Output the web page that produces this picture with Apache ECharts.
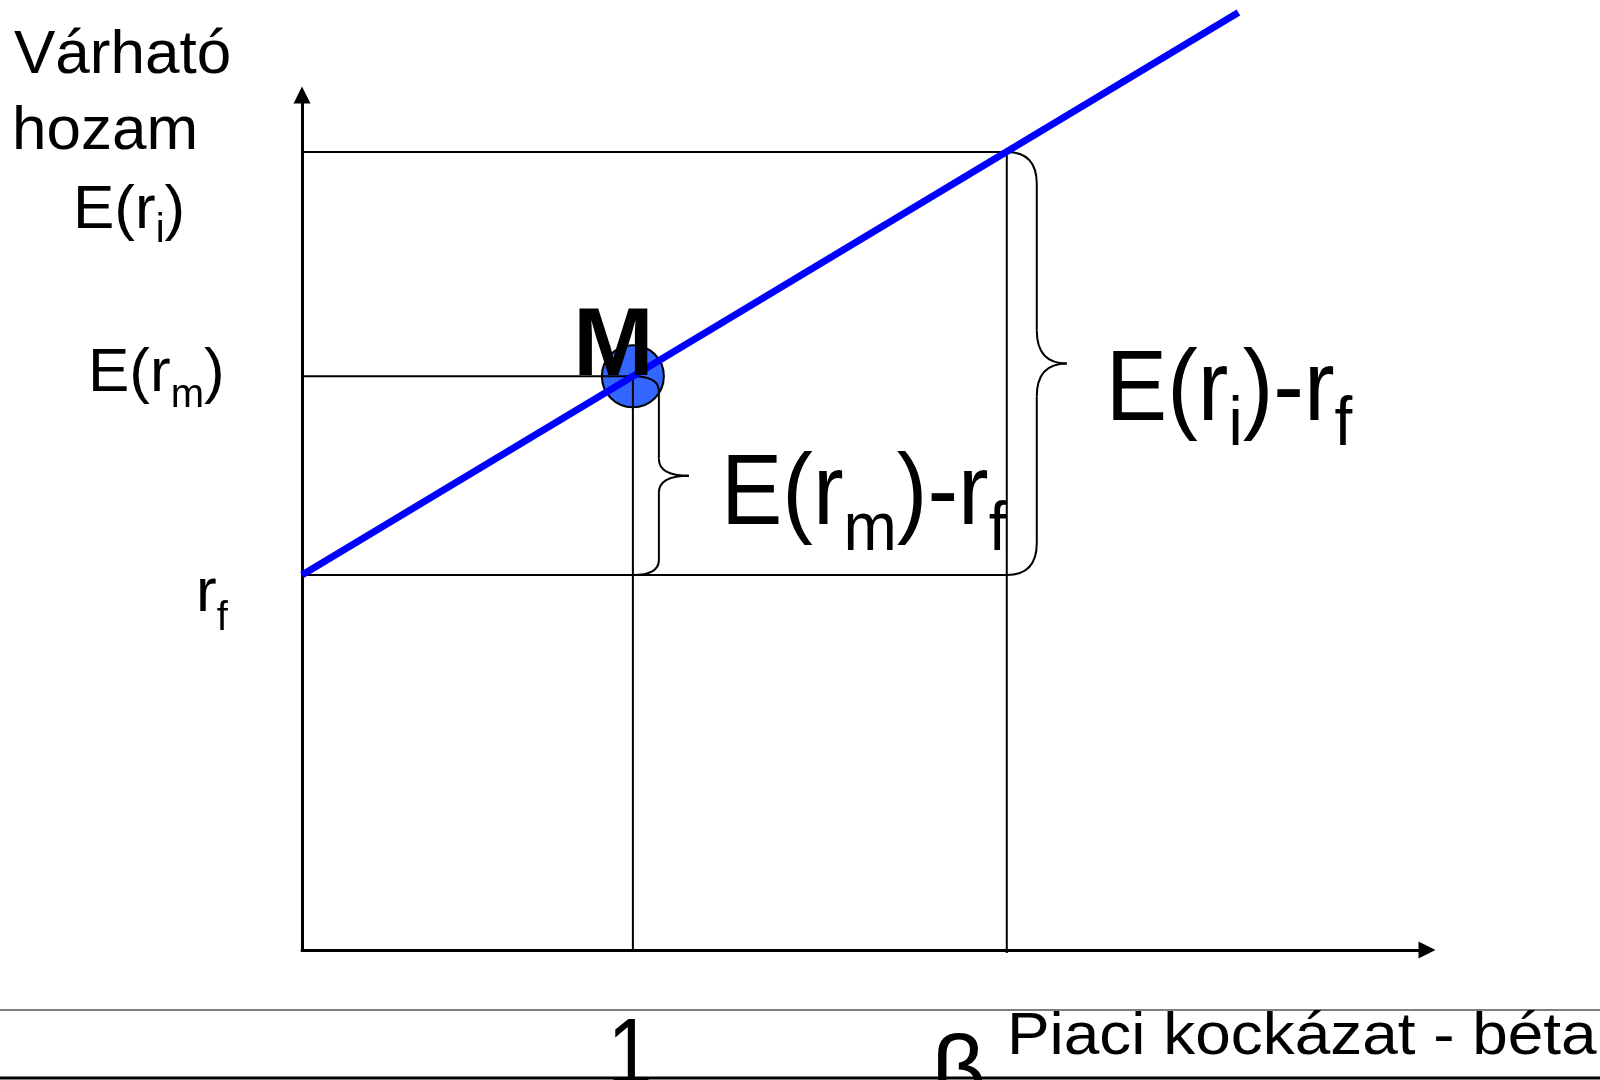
<!DOCTYPE html>
<html>
<head>
<meta charset="utf-8">
<title>Értékpapír-piaci egyenes</title>
<script src="https://cdn.jsdelivr.net/npm/echarts@6/dist/echarts.min.js"></script>
<style>
html, body { margin: 0; padding: 0; background: #fff; }
#main { width: 1600px; height: 1080px; }
</style>
</head>
<body>
<div id="main"></div>
<script>
// values: beta on x, expected return on y
const rf = 5;            // r_f
const expMarket = 7.65;  // E(r_m)
const betaMarket = 1;
const betaI = 2.13;
const expI = 10.64;      // E(r_i)

// security market line (runs past the top of the plot)
const smlBeta = [0, 2.83];
const smlReturn = [5, 12.5];

// thin guide lines, start and end points
const guideFrom = [[-0.015, 10.64], [-0.015, 5], [0, 7.65], [1, 7.65], [2.13, 10.64]];
const guideTo = [[2.13, 10.64], [2.13, 5], [1, 7.65], [1, 0], [2.13, -0.04]];

// curly braces: at beta, from top return down to bottom return
const braceBeta = [1, 2.13];
const braceTop = [7.65, 10.64];
const braceBottom = [5, 5];

// x tick labels under the axis
const xTickValues = [1, 2.13];
const xTickLabels = ['1', 'β'];

const FONT = "'Liberation Sans', Arial, sans-serif";
const braceShape = [
  { d: 26, tip: 30, r: 15, mid: 17 },
  { d: 30, tip: 30, r: 32, mid: 33 }
];

const chart = echarts.init(document.getElementById('main'));

const axisCommon = {
  type: 'value',
  axisLine: {
    show: true,
    symbol: ['none', 'triangle'],
    symbolSize: [17, 17],
    lineStyle: { color: '#000', width: 3 }
  },
  axisTick: { show: false },
  axisLabel: { show: false },
  splitLine: { show: false }
};

const guideSeries = guideFrom.map(function (p, i) {
  return {
    type: 'line',
    data: [p, guideTo[i]],
    symbol: 'none',
    clip: false,
    silent: true,
    z: 2,
    lineStyle: { color: '#000', width: 2 }
  };
});

const option = {
  animation: false,
  backgroundColor: '#fff',
  grid: { left: 302, right: 173, top: 95, bottom: 130, containLabel: false },
  xAxis: Object.assign({}, axisCommon, { min: 0, max: 3.4 }),
  yAxis: Object.assign({}, axisCommon, { min: 0, max: 11.4 }),
  series: [
    {
      type: 'scatter',
      data: [[betaMarket, expMarket]],
      symbolSize: 62,
      z: 1,
      silent: true,
      itemStyle: { color: '#3366ff', borderColor: '#000', borderWidth: 2, opacity: 1 }
    }
  ].concat(guideSeries, [
    {
      type: 'custom',
      data: braceBeta.map(function (b, i) { return [b, braceTop[i], braceBottom[i]]; }),
      encode: { x: 0, y: [1, 2] },
      z: 3,
      silent: true,
      renderItem: function (params, api) {
        const s = braceShape[params.dataIndex];
        const top = api.coord([api.value(0), api.value(1)]);
        const bot = api.coord([api.value(0), api.value(2)]);
        const x0 = top[0], yT = top[1], yB = bot[1], yM = (yT + yB) / 2;
        const x1 = x0 + s.d, x2 = x1 + s.tip;
        const st = { stroke: '#000', lineWidth: 2, fill: 'none' };
        const curve = function (a, b, c, d, e, f) {
          return { type: 'bezierCurve', shape: { x1: a, y1: b, cpx1: c, cpy1: d, x2: e, y2: f }, style: st };
        };
        const seg = function (a, b, c, d) {
          return { type: 'line', shape: { x1: a, y1: b, x2: c, y2: d }, style: st };
        };
        return {
          type: 'group',
          children: [
            curve(x0, yT, x1, yT, x1, yT + s.r),
            seg(x1, yT + s.r, x1, yM - s.mid),
            curve(x1, yM - s.mid, x1, yM, x2, yM),
            curve(x2, yM, x1, yM, x1, yM + s.mid),
            seg(x1, yM + s.mid, x1, yB - s.r),
            curve(x1, yB - s.r, x1, yB, x0, yB)
          ]
        };
      }
    },
    {
      type: 'line',
      data: smlBeta.map(function (b, i) { return [b, smlReturn[i]]; }),
      symbol: 'none',
      clip: false,
      silent: true,
      z: 4,
      lineStyle: { color: '#0000ff', width: 7, cap: 'butt' }
    }
  ])
};

chart.setOption(option);

// text with subscripts; x = left (or centre), baseline = alphabetic baseline
const K = 0.3465;
function label(parts, x, baseline, F, f, drop, opts) {
  opts = opts || {};
  f = f || F;
  drop = drop || 0;
  const sy = opts.sy || 1;
  const H = Math.max(F, drop + F / 2 + K * (F - f) + f / 2);
  const weight = opts.bold ? 'bold' : 'normal';
  return {
    type: 'text',
    x: x,
    y: baseline - (F * (0.5 + K) - 5) * sy,
    z: 20,
    silent: true,
    scaleX: opts.sx || 1,
    scaleY: sy,
    style: {
      text: parts.map(function (p) { return (p[1] ? '{s|' : '{n|') + p[0] + '}'; }).join(''),
      fill: '#000',
      align: opts.center ? 'center' : 'left',
      textAlign: opts.center ? 'center' : 'left',
      verticalAlign: 'top',
      textVerticalAlign: 'top',
      rich: {
        n: { fontSize: F, fontFamily: FONT, fontWeight: weight, lineHeight: H, height: F, verticalAlign: 'top', fill: '#000' },
        s: { fontSize: f, fontFamily: FONT, fontWeight: weight, lineHeight: f, height: f, verticalAlign: 'bottom', fill: '#000' }
      }
    }
  };
}

function px(x, y) { return chart.convertToPixel({ gridIndex: 0 }, [x, y]); }

const pM = px(betaMarket, expMarket);
const pRf = px(0, rf);
const pI = px(betaI, rf);

const graphics = [
  label([['Várható']], 14, 72, 62),
  label([['hozam']], 12, 148, 62),
  label([['E(r'], ['i', 1], [')']], 73, 227, 62, 40, 13),
  label([['E(r'], ['m', 1], [')']], 88, pM[1] + 14, 62, 40, 15),
  label([['r'], ['f', 1]], 196, pRf[1] + 35, 62, 40, 18),
  label([['M']], pM[0] - 60, pM[1] + 1, 97, 97, 0, { bold: true }),
  label([['E(r'], ['m', 1], [')-r'], ['f', 1]], pM[0] + 88, pRf[1] - 49, 92, 64, 22, { sy: 1.08 }),
  label([['E(r'], ['i', 1], [')-r'], ['f', 1]], pI[0] + 99, pRf[1] - 153, 92, 64, 21, { sy: 1.08 }),
  label([[xTickLabels[0]]], px(xTickValues[0], 0)[0] - 3, 1086, 95, 95, 0, { center: true, sx: 0.85 }),
  label([[xTickLabels[1]]], px(xTickValues[1], 0)[0] - 48, 1104, 95, 95, 0, { center: true }),
  label([['Piaci kockázat - béta']], 1007, 1053, 60, 60, 0, { sx: 1.065 }),
  { type: 'line', z: 15, silent: true, shape: { x1: 0, y1: 1010, x2: 1600, y2: 1010 }, style: { stroke: '#808080', lineWidth: 2 } },
  { type: 'line', z: 25, silent: true, shape: { x1: 0, y1: 1078, x2: 1600, y2: 1078 }, style: { stroke: '#000', lineWidth: 3 } }
];

chart.setOption({ graphic: graphics });
</script>
</body>
</html>
